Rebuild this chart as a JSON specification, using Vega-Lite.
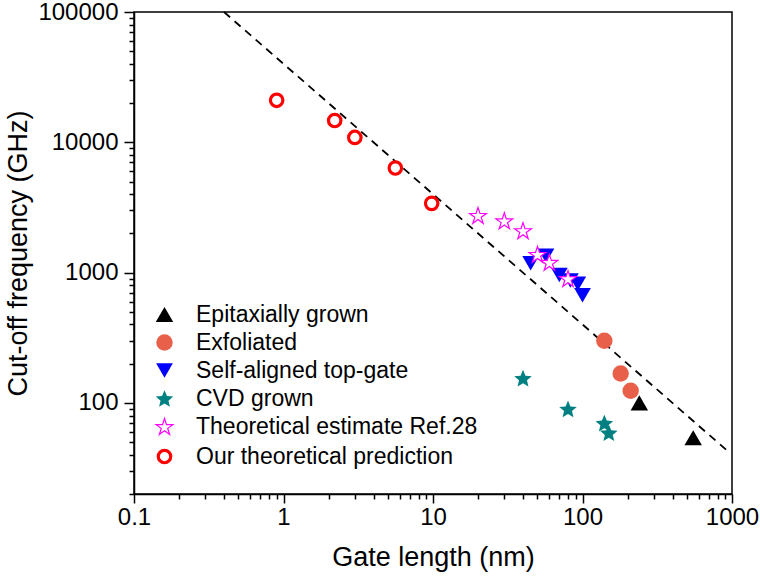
{
  "$schema": "https://vega.github.io/schema/vega-lite/v6.json",
  "width": 598,
  "height": 482,
  "autosize": {"type": "none"},
  "padding": {"left": 134, "top": 12, "right": 28, "bottom": 83},
  "background": "white",
  "config": {
    "font": "Liberation Sans",
    "view": {"stroke": "black", "strokeWidth": 1.5},
    "axis": {
      "grid": false,
      "domainColor": "black",
      "domainWidth": 1.5,
      "tickColor": "black",
      "tickWidth": 1.5,
      "labelColor": "black",
      "titleColor": "black",
      "labelFont": "Liberation Sans",
      "titleFont": "Liberation Sans",
      "labelFontSize": 24,
      "titleFontSize": 27,
      "titleFontWeight": "normal"
    },
    "legend": {
      "labelFont": "Liberation Sans",
      "labelFontSize": 23,
      "labelColor": "black",
      "labelLimit": 400
    }
  },
  "datasets": {
    "pts": [
      {"series": "Epitaxially grown", "L": 240, "f": 100},
      {"series": "Epitaxially grown", "L": 550, "f": 54},
      {"series": "Exfoliated", "L": 140, "f": 300},
      {"series": "Exfoliated", "L": 180, "f": 168},
      {"series": "Exfoliated", "L": 210, "f": 124},
      {"series": "Self-aligned top-gate", "L": 45, "f": 1180},
      {"series": "Self-aligned top-gate", "L": 57, "f": 1350},
      {"series": "Self-aligned top-gate", "L": 70, "f": 960},
      {"series": "Self-aligned top-gate", "L": 83, "f": 870},
      {"series": "Self-aligned top-gate", "L": 93, "f": 820},
      {"series": "Self-aligned top-gate", "L": 100, "f": 670},
      {"series": "CVD grown", "L": 40, "f": 155},
      {"series": "CVD grown", "L": 80, "f": 90},
      {"series": "CVD grown", "L": 140, "f": 70},
      {"series": "CVD grown", "L": 150, "f": 59},
      {"series": "Theoretical estimate Ref.28", "L": 20, "f": 2750},
      {"series": "Theoretical estimate Ref.28", "L": 30, "f": 2500},
      {"series": "Theoretical estimate Ref.28", "L": 40, "f": 2100},
      {"series": "Theoretical estimate Ref.28", "L": 50, "f": 1380},
      {"series": "Theoretical estimate Ref.28", "L": 60, "f": 1200},
      {"series": "Theoretical estimate Ref.28", "L": 80, "f": 900},
      {"series": "Our theoretical prediction", "L": 0.9, "f": 21000},
      {"series": "Our theoretical prediction", "L": 2.2, "f": 14700},
      {"series": "Our theoretical prediction", "L": 3.0, "f": 10900},
      {"series": "Our theoretical prediction", "L": 5.6, "f": 6350},
      {"series": "Our theoretical prediction", "L": 9.8, "f": 3400}
    ],
    "fit": [
      {"L": 0.4, "f": 100000},
      {"L": 925, "f": 43.2}
    ]
  },
  "layer": [
    {
      "data": {"name": "fit"},
      "mark": {"type": "line", "color": "black", "strokeWidth": 1.8, "strokeDash": [8, 6]},
      "encoding": {
        "x": {
          "field": "L", "type": "quantitative",
          "scale": {"type": "log", "domain": [0.1, 1000], "nice": false},
          "axis": {
            "orient": "bottom",
            "values": [0.1,0.2,0.3,0.4,0.5,0.6,0.7,0.8,0.9,1,2,3,4,5,6,7,8,9,10,20,30,40,50,60,70,80,90,100,200,300,400,500,600,700,800,900,1000],
            "format": "~g",
            "labelExpr": "abs(log(datum.value)/LN10 - round(log(datum.value)/LN10)) < 0.001 ? datum.label : ''",
            "tickSize": {"condition": {"test": "abs(log(datum.value)/LN10 - round(log(datum.value)/LN10)) < 0.001", "value": 9}, "value": 5},
            "labelPadding": 2, "title": "Gate length (nm)", "titlePadding": 15, "labelFlush": false, "labelOverlap": false
          }
        },
        "y": {
          "field": "f", "type": "quantitative",
          "scale": {"type": "log", "domain": [20, 100000], "nice": false},
          "axis": {
            "orient": "left",
            "values": [20,30,40,50,60,70,80,90,100,200,300,400,500,600,700,800,900,1000,2000,3000,4000,5000,6000,7000,8000,9000,10000,20000,30000,40000,50000,60000,70000,80000,90000,100000],
            "format": "d",
            "labelExpr": "abs(log(datum.value)/LN10 - round(log(datum.value)/LN10)) < 0.001 ? datum.label : ''",
            "tickSize": {"condition": {"test": "abs(log(datum.value)/LN10 - round(log(datum.value)/LN10)) < 0.001", "value": 10}, "value": 5},
            "labelPadding": 6, "title": "Cut-off frequency (GHz)", "titleX": -108, "titleBaseline": "alphabetic", "labelFlush": false, "labelOverlap": false
          }
        }
      }
    },
    {
      "data": {"name": "pts"},
      "mark": {"type": "point", "filled": true, "opacity": 1},
      "encoding": {
        "x": {"field": "L", "type": "quantitative"},
        "y": {"field": "f", "type": "quantitative"},
        "shape": {
          "field": "series", "type": "nominal",
          "scale": {
            "domain": ["Epitaxially grown", "Exfoliated", "Self-aligned top-gate", "CVD grown", "Theoretical estimate Ref.28", "Our theoretical prediction"],
            "range": ["triangle-up", "circle", "triangle-down",
              "M0,-0.905L0.265,-0.269L0.951,-0.214L0.428,0.234L0.588,0.904L0,0.545L-0.588,0.904L-0.428,0.234L-0.951,-0.214L-0.265,-0.269Z",
              "M0,-0.905L0.225,-0.214L0.951,-0.214L0.363,0.213L0.588,0.904L0,0.477L-0.588,0.904L-0.363,0.213L-0.951,-0.214L-0.225,-0.214Z",
              "circle"]
          },
          "legend": {
            "orient": "none", "legendX": 19, "legendY": 291, "title": null, "padding": 0, "rowPadding": 4, "labelOffset": 20,
            "labelExpr": "datum.label == 'Theoretical estimate Ref.28' ? datum.label : '\u00a0' + datum.label"
          }
        },
        "fill": {
          "field": "series", "type": "nominal",
          "scale": {
            "domain": ["Epitaxially grown", "Exfoliated", "Self-aligned top-gate", "CVD grown", "Theoretical estimate Ref.28", "Our theoretical prediction"],
            "range": ["#000000", "#E8604A", "#0000FF", "#008080", "#FFFFFF", "#FFFFFF"]
          }
        },
        "stroke": {
          "field": "series", "type": "nominal",
          "scale": {
            "domain": ["Epitaxially grown", "Exfoliated", "Self-aligned top-gate", "CVD grown", "Theoretical estimate Ref.28", "Our theoretical prediction"],
            "range": ["#000000", "#E8604A", "#0000FF", "#008080", "#FF00FF", "#FF0000"]
          }
        },
        "strokeWidth": {
          "field": "series", "type": "nominal",
          "scale": {
            "type": "ordinal",
            "domain": ["Epitaxially grown", "Exfoliated", "Self-aligned top-gate", "CVD grown", "Theoretical estimate Ref.28", "Our theoretical prediction"],
            "range": [0, 0, 0, 0, 1.2, 3.2]
          }
        },
        "size": {
          "field": "series", "type": "nominal",
          "scale": {
            "type": "ordinal",
            "domain": ["Epitaxially grown", "Exfoliated", "Self-aligned top-gate", "CVD grown", "Theoretical estimate Ref.28", "Our theoretical prediction"],
            "range": [306, 270, 280, 340, 310, 155]
          }
        }
      }
    }
  ]
}
